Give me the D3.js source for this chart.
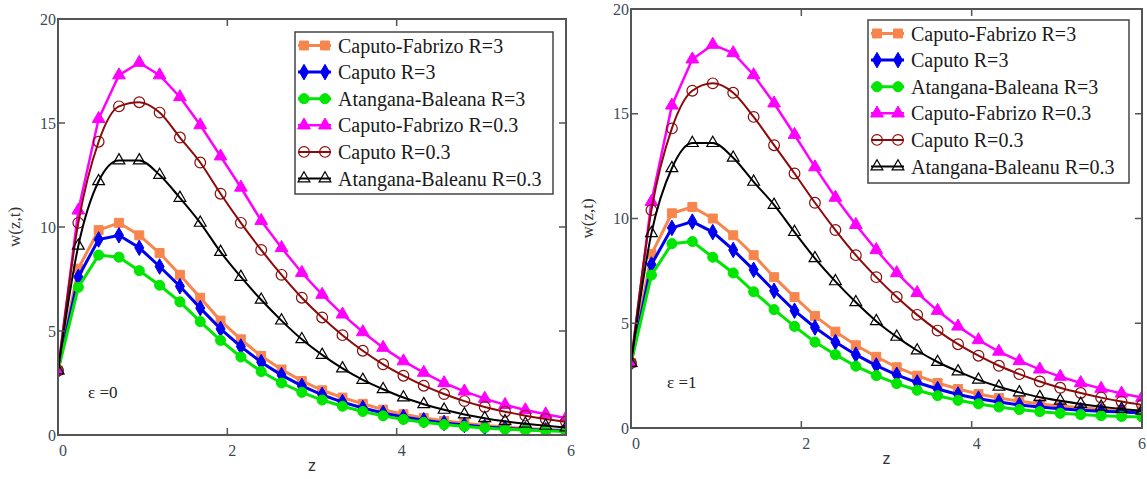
<!DOCTYPE html>
<meta charset="utf-8">
<head>
<style>
body { margin: 0; background: #fff; }
.frame { fill: none; stroke: #555; stroke-width: 2px; }
.tick { stroke: #555; stroke-width: 1.5px; }
.ticklabel { font-family: "Liberation Serif", serif; font-size: 16px; fill: #3d4a58; }
.ylab { font-family: "Liberation Serif", serif; font-size: 17px; fill: #333; }
.xlab { font-family: "Liberation Sans", sans-serif; font-size: 16px; fill: #333; }
.eps { font-family: "Liberation Serif", serif; font-size: 17px; fill: #222; }
.legend text { font-family: "Liberation Serif", serif; font-size: 20px; fill: #1a1a1a; }
.legend rect.box { fill: #fff; stroke: #444; stroke-width: 1.5px; }
</style>
<script src="https://d3js.org/d3.v7.min.js"></script>
</head>
<body>
<div id="chart"></div>
<script>

// z grid
var zVals = [0, 0.24, 0.48, 0.72, 0.96, 1.2, 1.44, 1.68, 1.92, 2.16, 2.4, 2.64, 2.88,
  3.12, 3.36, 3.6, 3.84, 4.08, 4.32, 4.56, 4.8, 5.04, 5.28, 5.52, 5.76, 6];

var seriesNames = ["Caputo-Fabrizo R=3", "Caputo R=3", "Atangana-Baleana R=3",
  "Caputo-Fabrizo R=0.3", "Caputo R=0.3", "Atangana-Baleanu R=0.3"];

var yTicks = [0, 5, 10, 15, 20];
var xTicks = [0, 2, 4, 6];

// eps = 0
var cfR3_e0  = [3.1, 8.0, 9.85, 10.2, 9.6, 8.75, 7.7, 6.6, 5.5, 4.6, 3.8, 3.15, 2.6, 2.15, 1.8, 1.5, 1.22, 1.0, 0.82, 0.68, 0.56, 0.46, 0.38, 0.32, 0.27, 0.23];
var capR3_e0 = [3.1, 7.6, 9.4, 9.6, 9.0, 8.1, 7.15, 6.1, 5.1, 4.25, 3.5, 2.88, 2.36, 1.93, 1.58, 1.3, 1.06, 0.87, 0.71, 0.58, 0.48, 0.39, 0.32, 0.27, 0.23, 0.2];
var abR3_e0  = [3.1, 7.1, 8.65, 8.55, 7.9, 7.2, 6.4, 5.45, 4.55, 3.75, 3.05, 2.5, 2.05, 1.68, 1.38, 1.13, 0.92, 0.75, 0.61, 0.5, 0.41, 0.34, 0.28, 0.24, 0.2, 0.17];
var cfR03_e0 = [3.1, 10.8, 15.2, 17.3, 17.9, 17.3, 16.25, 14.9, 13.4, 11.9, 10.3, 9.0, 7.8, 6.75, 5.8, 4.95, 4.2, 3.55, 3.0, 2.5, 2.1, 1.75, 1.45, 1.2, 1.0, 0.82];
var capR03_e0 = [3.1, 10.2, 14.1, 15.8, 16.0, 15.5, 14.3, 13.1, 11.6, 10.2, 8.9, 7.7, 6.6, 5.65, 4.8, 4.05, 3.4, 2.85, 2.37, 1.97, 1.63, 1.35, 1.12, 0.93, 0.77, 0.64];
var abR03_e0 = [3.1, 9.1, 12.2, 13.2, 13.2, 12.5, 11.4, 10.2, 8.8, 7.6, 6.5, 5.5, 4.6, 3.85, 3.2, 2.65, 2.2, 1.8, 1.48, 1.21, 0.99, 0.81, 0.66, 0.54, 0.44, 0.36];

// eps = 1
var cfR3_e1  = [3.1, 8.3, 10.25, 10.55, 10.0, 9.2, 8.25, 7.2, 6.25, 5.35, 4.6, 3.95, 3.4, 2.9, 2.5, 2.15, 1.86, 1.62, 1.43, 1.28, 1.15, 1.05, 0.97, 0.9, 0.85, 0.8];
var capR3_e1 = [3.1, 7.8, 9.55, 9.85, 9.35, 8.5, 7.55, 6.55, 5.6, 4.8, 4.1, 3.5, 2.98, 2.54, 2.17, 1.86, 1.6, 1.4, 1.24, 1.1, 1.0, 0.92, 0.85, 0.8, 0.76, 0.72];
var abR3_e1  = [3.1, 7.3, 8.8, 8.9, 8.15, 7.4, 6.5, 5.65, 4.85, 4.1, 3.5, 2.95, 2.5, 2.12, 1.8, 1.54, 1.32, 1.15, 1.0, 0.88, 0.78, 0.7, 0.64, 0.59, 0.55, 0.52];
var cfR03_e1 = [3.1, 10.8, 15.4, 17.6, 18.3, 17.9, 16.85, 15.5, 14.0, 12.45, 11.0, 9.7, 8.5, 7.4, 6.45, 5.6, 4.85, 4.2, 3.65, 3.2, 2.8, 2.45, 2.15, 1.88, 1.65, 1.45];
var capR03_e1 = [3.1, 10.4, 14.3, 16.1, 16.45, 16.0, 14.85, 13.5, 12.15, 10.75, 9.45, 8.25, 7.2, 6.25, 5.4, 4.65, 4.0, 3.45, 2.97, 2.57, 2.22, 1.92, 1.67, 1.45, 1.26, 1.1];
var abR03_e1 = [3.1, 9.3, 12.4, 13.6, 13.6, 12.9, 11.75, 10.65, 9.35, 8.1, 7.0, 6.0, 5.1, 4.35, 3.7, 3.15, 2.7, 2.3, 1.97, 1.7, 1.47, 1.3, 1.15, 1.02, 0.91, 0.82];

// style per trace
var styles = [
  {color: "#f7864e", sym: d3.symbolSquare, size: 80, fill: true, width: 3, smooth: false},
  {color: "#0000f0", sym: d3.symbolDiamond, size: 70, fill: true, width: 3, smooth: false},
  {color: "#00e600", sym: d3.symbolCircle, size: 80, fill: true, width: 3, smooth: false},
  {color: "#ff00ff", sym: d3.symbolTriangle, size: 70, fill: true, width: 2.5, smooth: false},
  {color: "#8b0a0a", sym: d3.symbolCircle, size: 90, fill: false, width: 2, smooth: true},
  {color: "#000000", sym: d3.symbolTriangle, size: 60, fill: false, width: 2, smooth: true}
];

var W = 1147, H = 479;
var svg = d3.select("#chart").append("svg")
  .attr("width", W).attr("height", H);

function drawPanel(opt) {
  var x = d3.scaleLinear().domain([0, 6]).range([opt.left, opt.right]);
  var y = d3.scaleLinear().domain([0, 20]).range([opt.bottom, opt.top]);
  var g = svg.append("g");

  var clipId = "clip" + opt.id;
  svg.append("clipPath").attr("id", clipId)
    .append("rect")
      .attr("x", opt.left).attr("y", opt.top)
      .attr("width", opt.right - opt.left).attr("height", opt.bottom - opt.top);

  var plot = g.append("g").attr("clip-path", "url(#" + clipId + ")");

  opt.series.forEach(function(vals, k) {
    var st = styles[k];
    var pts = zVals.map(function(z, i) { return {z: z, v: vals[i]}; });
    var line = d3.line()
      .x(function(d) { return x(d.z); })
      .y(function(d) { return y(d.v); })
      .curve(st.smooth ? d3.curveMonotoneX : d3.curveLinear);
    plot.append("path")
      .attr("d", line(pts))
      .attr("fill", "none")
      .attr("stroke", st.color)
      .attr("stroke-width", st.width);
    plot.selectAll(null)
      .data(pts)
      .enter().append("path")
        .attr("transform", function(d) { return "translate(" + x(d.z) + "," + y(d.v) + ")"; })
        .attr("d", d3.symbol().type(st.sym).size(st.size))
        .attr("fill", st.fill ? st.color : "none")
        .attr("stroke", st.color)
        .attr("stroke-width", st.fill ? 1 : 1.2);
  });

  // frame
  g.append("rect").attr("class", "frame")
    .attr("x", opt.left).attr("y", opt.top)
    .attr("width", opt.right - opt.left).attr("height", opt.bottom - opt.top);

  // inward ticks on all sides
  var tl = 7;
  yTicks.slice(1, -1).forEach(function(t) {
    g.append("line").attr("class", "tick")
      .attr("x1", opt.left).attr("x2", opt.left + tl).attr("y1", y(t)).attr("y2", y(t));
    g.append("line").attr("class", "tick")
      .attr("x1", opt.right).attr("x2", opt.right - tl).attr("y1", y(t)).attr("y2", y(t));
  });
  xTicks.slice(1, -1).forEach(function(t) {
    g.append("line").attr("class", "tick")
      .attr("x1", x(t)).attr("x2", x(t)).attr("y1", opt.bottom).attr("y2", opt.bottom - tl);
    g.append("line").attr("class", "tick")
      .attr("x1", x(t)).attr("x2", x(t)).attr("y1", opt.top).attr("y2", opt.top + tl);
  });

  g.selectAll(null).data(yTicks).enter().append("text")
    .attr("class", "ticklabel")
    .attr("x", opt.left - 2)
    .attr("y", function(d) { return y(d); })
    .attr("dy", "0.35em")
    .attr("text-anchor", "end")
    .text(function(d) { return d; });

  g.selectAll(null).data(xTicks).enter().append("text")
    .attr("class", "ticklabel")
    .attr("x", function(d) { return Math.min(x(d) + 1, W - 9); })
    .attr("y", opt.bottom + 15)
    .attr("dy", "0.35em")
    .attr("text-anchor", "start")
    .text(function(d) { return d; });

  g.append("text").attr("class", "xlab")
    .attr("x", (opt.left + opt.right) / 2).attr("y", opt.bottom + 36)
    .attr("text-anchor", "middle")
    .text("z");

  g.append("text").attr("class", "ylab")
    .attr("transform", "translate(" + (opt.left - 38) + "," + ((opt.top + opt.bottom) / 2) + ") rotate(-90)")
    .attr("text-anchor", "middle")
    .text("w(z,t)");

  g.append("text").attr("class", "eps")
    .attr("x", opt.epsX).attr("y", opt.epsY)
    .text(opt.eps);

  // legend
  var lg = g.append("g").attr("class", "legend");
  lg.append("rect").attr("class", "box")
    .attr("x", opt.lgX).attr("y", opt.lgY).attr("width", opt.lgW).attr("height", opt.lgH);
  seriesNames.forEach(function(name, k) {
    var st = styles[k];
    var cy = opt.lgY + 13.5 + k * 26.6;
    var x0 = opt.lgX + 3, x1 = opt.lgX + 36;
    lg.append("line")
      .attr("x1", x0).attr("x2", x1).attr("y1", cy).attr("y2", cy)
      .attr("stroke", st.color).attr("stroke-width", st.width);
    [x0 + 6, x1 - 6].forEach(function(mx) {
      lg.append("path")
        .attr("transform", "translate(" + mx + "," + cy + ")")
        .attr("d", d3.symbol().type(st.sym).size(st.size))
        .attr("fill", st.fill ? st.color : "none")
        .attr("stroke", st.color)
        .attr("stroke-width", st.fill ? 1 : 1.2);
    });
    lg.append("text")
      .attr("x", opt.lgX + 43).attr("y", cy)
      .attr("dy", "0.35em")
      .text(name);
  });
}

drawPanel({id: 0, left: 58, right: 566, top: 19, bottom: 435,
  series: [cfR3_e0, capR3_e0, abR3_e0, cfR03_e0, capR03_e0, abR03_e0],
  eps: "\u03b5 =0", epsX: 88, epsY: 398,
  lgX: 295, lgY: 32, lgW: 258, lgH: 162});

drawPanel({id: 1, left: 631, right: 1142, top: 9, bottom: 428,
  series: [cfR3_e1, capR3_e1, abR3_e1, cfR03_e1, capR03_e1, abR03_e1],
  eps: "\u03b5 =1", epsX: 667, epsY: 388,
  lgX: 868, lgY: 20, lgW: 261, lgH: 163});

</script>
</body>
</html>
